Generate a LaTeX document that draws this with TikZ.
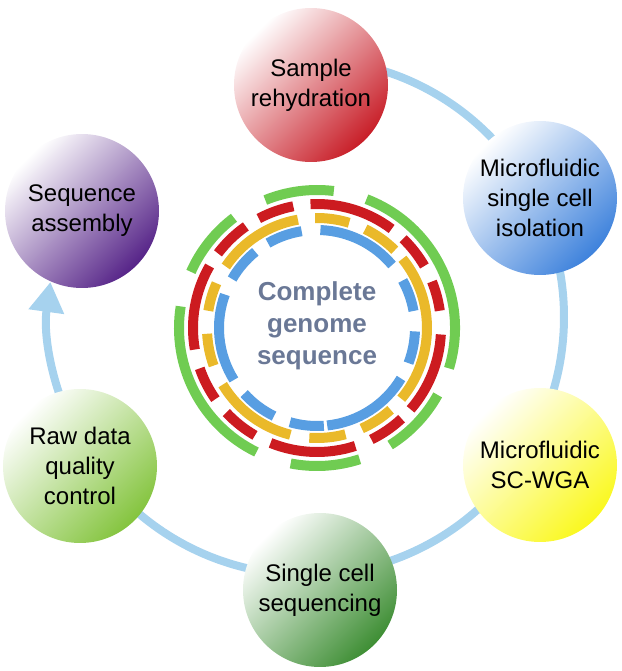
\documentclass[tikz,border=0pt]{standalone}
\usepackage{fontspec}
\setmainfont{Liberation Sans}
\usepackage{tikz}
\usetikzlibrary{arrows.meta}
\definecolor{flowblue}{RGB}{166,210,238}
\definecolor{ringblue}{RGB}{88,158,226}
\definecolor{ringyellow}{RGB}{234,185,42}
\definecolor{ringred}{RGB}{204,27,32}
\definecolor{ringgreen}{RGB}{112,204,82}
\definecolor{titlegray}{RGB}{106,120,150}
\definecolor{samplered}{RGB}{200,30,40}
\definecolor{isoblue}{RGB}{62,130,220}
\definecolor{wgayellow}{RGB}{250,248,30}
\definecolor{seqgreen}{RGB}{62,142,52}
\definecolor{rawgreen}{RGB}{132,196,62}
\definecolor{asmpurple}{RGB}{86,36,136}
\tikzset{stage/.style={circle, minimum size=77pt, inner sep=0pt, top color=white, bottom color=#1, shading angle=45}}
\tikzset{ring/.style={line width=5pt}}
\tikzset{flow/.style={draw=flowblue, line width=4pt, -{Triangle[length=15pt,width=17pt,fill=flowblue]}}}

\begin{document}
\begin{tikzpicture}[x=0.5pt, y=0.5pt]
	% Default action for each node
	\tikzstyle{every node}=[align=center, font=\fontsize{12}{15}\selectfont];
	\useasboundingbox (0,0) rectangle (622,671);

	\coordinate (flowc) at (306,354);	\coordinate (flowstart) at (306,612);
	\coordinate (ringc) at (317,343);

	% Cycle
	\draw[flow] (flowstart) arc[start angle=90, end angle=-187.8, radius=258];

	\node[stage=samplered] (sample) at (311,586) {Sample\\rehydration};
	\node[stage=isoblue] (isolation) at (540,473) {Microfluidic\\single cell\\isolation};
	\node[stage=wgayellow] (wga) at (540,206) {Microfluidic\\SC-WGA};
	\node[stage=seqgreen] (sequencing) at (320,81) {Single cell\\sequencing};
	\node[stage=rawgreen] (rawdata) at (80,205) {Raw data\\quality\\control};
	\node[stage=asmpurple] (assembly) at (82,460) {Sequence\\assembly};

	% Rings
	\foreach \s/\e in {99/120, 129/150, 160/212, 222/244, 254/274, 276/329, 339/358, 10/29, 40/88}
		\draw[ring, ringblue] (ringc) ++(\s:98) arc[start angle=\s, end angle=\e, radius=98];
	\foreach \s/\e in {100/146, 73/91, 45/64, -40/39, 294/312, 266/285, 211/256, 183/200, 156/171}
		\draw[ring, ringyellow] (ringc) ++(\s:110) arc[start angle=\s, end angle=\e, radius=110];
	\foreach \s/\e in {101/118, 53/93, 30/46, 8/22, -41/-3, 296/313, 248/288, 223/240, 199/215, 150/190, 125/143}
		\draw[ring, ringred] (ringc) ++(\s:124) arc[start angle=\s, end angle=\e, radius=124];
	\foreach \s/\e in {83/112, -17/69, 302/331, 259/288, 171/244, 127/156}
		\draw[ring, ringgreen] (ringc) ++(\s:138) arc[start angle=\s, end angle=\e, radius=138];

	\node[font=\bfseries\fontsize{13}{16}\selectfont, text=titlegray] (genome) at (317,345) {Complete\\genome\\sequence};
\end{tikzpicture}
\end{document}
